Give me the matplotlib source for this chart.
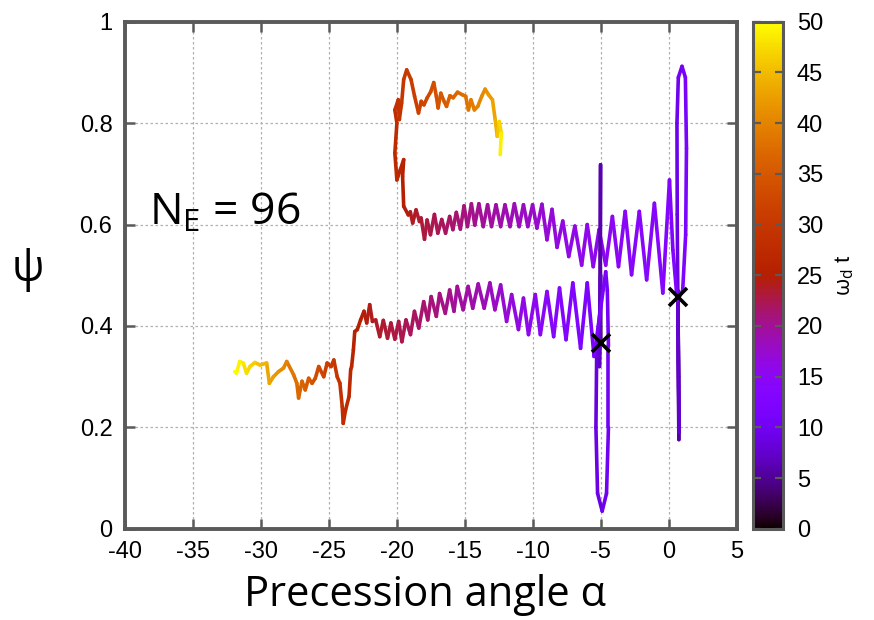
import numpy as np
import matplotlib.pyplot as plt
from matplotlib.collections import LineCollection
from matplotlib.colors import Normalize
from matplotlib.cm import ScalarMappable

plt.rcParams['font.family'] = ['Liberation Sans', 'DejaVu Sans']
plt.rcParams['axes.unicode_minus'] = False
plt.rcParams['mathtext.fontset'] = 'custom'
plt.rcParams['mathtext.rm'] = 'Open Sans'
plt.rcParams['mathtext.it'] = 'Open Sans:italic'

### trajectory starting at the upper cross (alpha, psi, omega_d t)
a_x = [0.67, 0.72, 0.74, 0.70, 0.66, 0.72, 0.76, 0.70, 0.66, 0.62, 0.60, 0.70, 0.97, 1.22, 1.30, 1.24, 1.02,
       0.62, 0.30, 0.05, -0.44, -1.06, -1.63, -2.17, -2.74, -3.21, -3.70, -4.15, -4.64, -5.13, -5.56,
       -6.00, -6.41, -6.91, -7.36, -7.80, -8.22, -8.59, -8.96, -9.33, -9.70, -10.02, -10.37, -10.69,
       -11.01, -11.36, -11.68, -12.05, -12.37, -12.71, -13.04, -13.33, -13.65, -13.97, -14.27, -14.52,
       -14.81, -15.06, -15.33, -15.63, -15.88, -16.12, -16.42, -16.70, -16.99, -17.24, -17.53, -17.78,
       -17.97, -18.22, -18.34, -18.59, -18.84, -19.01, -19.16,
       -19.50, -19.58, -19.50, -19.75, -20.00, -20.15, -20.00, -20.15, -19.90, -19.82, -19.65, -19.50,
       -19.28, -18.96, -18.70, -18.41, -18.21, -18.01, -17.77, -17.51, -17.29, -17.10, -16.97, -16.77,
       -16.53, -16.35, -16.10, -15.86, -15.54, -15.19, -14.94, -14.74, -14.55, -14.30, -14.05, -13.76,
       -13.51, -13.26, -12.97, -12.77, -12.62, -12.47, -12.32, -12.40]
a_psi = [0.458, 0.30, 0.176, 0.33, 0.47, 0.28, 0.19, 0.36, 0.47, 0.62, 0.80, 0.89, 0.912, 0.89, 0.75, 0.58, 0.47,
         0.45, 0.55, 0.688, 0.465, 0.642, 0.491, 0.626, 0.501, 0.626, 0.517, 0.616, 0.520, 0.590, 0.517,
         0.600, 0.520, 0.597, 0.537, 0.607, 0.555, 0.630, 0.570, 0.640, 0.593, 0.639, 0.596, 0.639,
         0.596, 0.641, 0.596, 0.639, 0.596, 0.639, 0.596, 0.639, 0.596, 0.641, 0.599, 0.641,
         0.596, 0.637, 0.591, 0.624, 0.590, 0.616, 0.583, 0.610, 0.583, 0.620, 0.580, 0.609,
         0.571, 0.613, 0.606, 0.629, 0.603, 0.625, 0.619,
         0.636, 0.695, 0.728, 0.708, 0.688, 0.741, 0.800, 0.826, 0.846, 0.807, 0.840, 0.886,
         0.905, 0.886, 0.853, 0.820, 0.843, 0.836, 0.850, 0.862, 0.880, 0.853, 0.830, 0.859,
         0.843, 0.833, 0.854, 0.850, 0.861, 0.856, 0.853, 0.826, 0.846, 0.826, 0.833, 0.853,
         0.867, 0.856, 0.846, 0.807, 0.774, 0.803, 0.780, 0.738]
a_t = [0, 5.0, 5.5, 6.0, 6.5, 7.0, 7.4, 7.8, 8.2, 9, 9.5, 10, 10.5, 11, 11.5, 12, 12.3,
       12.6, 12.9, 13.2, 13.4, 13.6, 13.9, 14.1, 14.3, 14.5, 14.7, 14.9, 15.1, 15.3, 15.5,
       15.7, 15.9, 16.1, 16.3, 16.5, 16.7, 16.9, 17.1, 17.3, 17.5, 17.7, 17.9, 18.1,
       18.3, 18.5, 18.7, 18.9, 19.1, 19.3, 19.5, 19.7, 19.9, 20.1, 20.3, 20.5,
       20.7, 20.9, 21.1, 21.3, 21.5, 21.7, 21.9, 22.1, 22.3, 22.5, 22.7, 22.9,
       23.1, 23.3, 23.5, 23.7, 23.9, 24.1, 24.3,
       24.8, 25.3, 25.8, 26.3, 26.8, 27.3, 27.8, 28.3, 28.8, 29.2, 29.6, 30.0,
       30.4, 30.8, 31.2, 31.6, 32.0, 32.4, 32.8, 33.2, 33.6, 34.0, 34.4, 34.8,
       35.2, 35.6, 36.0, 36.5, 37.0, 37.5, 38.0, 38.5, 39.0, 39.5, 40.0, 40.5,
       41.0, 41.8, 42.6, 43.5, 45.0, 46.5, 48.0, 50.0]

### trajectory starting at the lower cross
b_x = [-5.00, -5.04, -5.02, -5.06, -5.10, -5.02, -5.12, -5.00, -5.30,
       -5.36, -5.24, -4.90, -4.58, -4.44, -4.44, -4.52, -4.64,
       -5.50, -6.00, -6.49, -7.06, -7.56, -8.04, -8.47, -8.96, -9.45, -9.82, -10.32, -10.69, -11.06,
       -11.56, -11.93, -12.37, -12.79, -13.16, -13.58, -14.02, -14.42,
       -14.76, -15.13, -15.56, -15.80, -16.12, -16.44, -16.86, -17.10, -17.48, -17.73, -18.03, -18.39,
       -18.71, -19.00, -19.33, -19.63, -19.87, -20.15,
       -20.44, -20.69, -21.00, -21.26, -21.56, -21.80, -22.00, -22.22, -22.42, -22.67,
       -22.91, -23.10, -23.20, -23.33, -23.40, -23.52, -23.77, -23.95,
       -24.02, -24.19, -24.39, -24.64, -24.84, -25.13,
       -25.38, -25.75, -26.00, -26.24, -26.49, -26.74, -26.98, -27.23, -27.36, -27.60, -28.10, -28.34,
       -28.71, -29.08, -29.38, -29.58, -30.07, -30.44, -30.81, -31.06, -31.30, -31.56, -31.80, -31.93]
b_psi = [0.367, 0.55, 0.718, 0.45, 0.32, 0.50, 0.34, 0.45, 0.36,
         0.20, 0.07, 0.035, 0.07, 0.20, 0.36, 0.47, 0.507,
         0.340, 0.485, 0.356, 0.485, 0.373, 0.475, 0.379, 0.468, 0.383, 0.462, 0.383, 0.455, 0.393,
         0.462, 0.409, 0.481, 0.432, 0.485, 0.435, 0.483, 0.435,
         0.478, 0.432, 0.478, 0.429, 0.471, 0.425, 0.464, 0.419, 0.458, 0.412, 0.448, 0.396,
         0.429, 0.383, 0.412, 0.369, 0.409, 0.374,
         0.406, 0.376, 0.411, 0.379, 0.412, 0.409, 0.442, 0.406, 0.429, 0.412,
         0.393, 0.389, 0.353, 0.320, 0.314, 0.261, 0.235, 0.208,
         0.241, 0.287, 0.300, 0.333, 0.320, 0.327,
         0.300, 0.320, 0.297, 0.287, 0.297, 0.274, 0.291, 0.258, 0.287, 0.304, 0.330, 0.317,
         0.310, 0.300, 0.287, 0.327, 0.323, 0.328, 0.320, 0.307, 0.327, 0.330, 0.307, 0.310]
b_t = [0, 5.5, 6.0, 6.4, 6.8, 7.2, 7.6, 8.0, 8.3,
       8.6, 9.0, 9.3, 9.6, 10.0, 10.4, 10.8, 11.0,
       11.5, 11.9, 12.3, 12.7, 13.1, 13.5, 13.9, 14.3, 14.7, 15.1, 15.5, 15.9, 16.3,
       16.7, 17.1, 17.5, 17.9, 18.3, 18.7, 19.0, 19.2,
       19.4, 19.6, 19.8, 20.0, 20.3, 20.5, 20.7, 20.9, 21.1, 21.3, 21.5, 21.7,
       21.9, 22.1, 22.3, 22.5, 22.7, 22.9,
       23.1, 23.3, 23.5, 23.7, 23.9, 24.1, 24.3, 24.5, 24.7, 24.9,
       25.2, 25.6, 26.0, 26.4, 26.8, 27.2, 27.6, 28.0,
       28.5, 29.0, 29.5, 30.0, 30.5, 31.0,
       32.0, 32.8, 33.5, 34.2, 34.9, 35.6, 36.3, 37.0, 37.5, 38.2, 39.5, 40.3,
       41.2, 42.2, 43.0, 43.7, 45.0, 46.0, 46.8, 47.5, 48.2, 48.9, 49.5, 50.0]

### starting points
start_x = [0.67, -5.00]
start_psi = [0.458, 0.367]

x_ticks = [-40, -35, -30, -25, -20, -15, -10, -5, 0, 5]
y_ticks = [0, 0.2, 0.4, 0.6, 0.8, 1]
y_ticklabels = ['0', '0.2', '0.4', '0.6', '0.8', '1']
c_ticks = [0, 5, 10, 15, 20, 25, 30, 35, 40, 45, 50]

gray = '#5a5a5a'
norm = Normalize(0, 50)

fig = plt.figure(figsize=(8.74, 6.2), dpi=100)
ax = fig.add_axes([0.143, 0.147, 0.700, 0.818])
cax = fig.add_axes([0.8616, 0.147, 0.0343, 0.818])


def add_track(x, y, t):
    pts = np.column_stack([x, y]).reshape(-1, 1, 2)
    segs = np.concatenate([pts[:-1], pts[1:]], axis=1)
    t = np.asarray(t, dtype=float)
    lc = LineCollection(segs, cmap='gnuplot', norm=norm, linewidths=2.6,
                        capstyle='round', joinstyle='round', zorder=3)
    lc.set_array((t[:-1] + t[1:]) / 2)
    ax.add_collection(lc)


add_track(a_x, a_psi, a_t)
add_track(b_x, b_psi, b_t)
ax.plot(start_x, start_psi, 'x', color='black', markersize=13, mew=2.6, zorder=4)

ax.set_xlim(-40, 5)
ax.set_ylim(0, 1)
ax.set_xticks(x_ticks)
ax.set_yticks(y_ticks)
ax.set_yticklabels(y_ticklabels)
ax.grid(True, color='#b0b0b0', linestyle=(0, (2, 2)), linewidth=0.9)
ax.set_axisbelow(True)
ax.tick_params(direction='in', length=7, width=1.8, color=gray, top=True, right=True,
               labelsize=17, pad=9)
for s in ax.spines.values():
    s.set_color(gray)
    s.set_linewidth(2.8)

ax.text(-38.2, 0.6, r'$\mathrm{N_E}$ = 96', fontsize=32, family='Open Sans', va='baseline')

fig.text(0.486, 0.023, 'Precession angle α', fontsize=30, family='Open Sans',
         ha='center', va='baseline')
fig.text(0.032, 0.565, 'ψ', fontsize=31, family='Open Sans', ha='center', va='center')

cb = fig.colorbar(ScalarMappable(norm=norm, cmap='gnuplot'), cax=cax, ticks=c_ticks)
cb.outline.set_edgecolor(gray)
cb.outline.set_linewidth(2.2)
cax.tick_params(direction='in', length=6, width=1.6, color=gray, left=True, right=True,
                labelsize=17, pad=10)
fig.text(0.967, 0.556, r'$\mathrm{\omega_d}$ t', fontsize=16, rotation=90,
         ha='center', va='center')

fig.savefig('out.png', dpi=100)
